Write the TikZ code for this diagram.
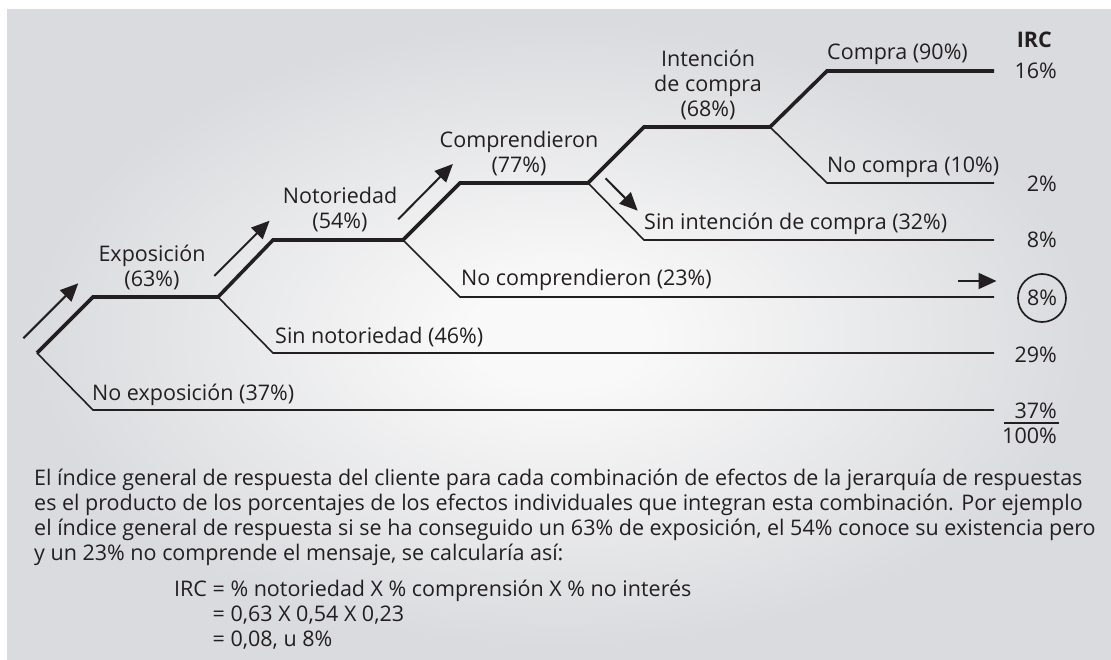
\documentclass[tikz,border=0pt]{standalone}
\usepackage{fontspec}
\setmainfont{Open Sans}
\usetikzlibrary{arrows.meta}
\definecolor{ink}{HTML}{231F20}
\definecolor{bgin}{RGB}{249,249,249}
\definecolor{bgout}{RGB}{218,219,222}
\pgfdeclareradialshading{bgshade}{\pgfpoint{0bp}{0bp}}{color(0bp)=(bgin); color(4bp)=(bgin); color(24bp)=(bgout); color(50bp)=(bgout)}
\tikzset{
  lbl/.style={font=\fontsize{21.5}{25}\selectfont, text=ink, inner sep=0pt},
  thickpath/.style={draw=ink, line width=3.6pt},
  thinpath/.style={draw=ink, line width=1.6pt},
  flowarrow/.style={draw=ink, line width=2pt, -{Triangle[length=18pt,width=16pt]}},
}
\begin{document}
\begin{tikzpicture}[x=1pt,y=-1pt]
\useasboundingbox (0,0) rectangle (1111,660);
\fill[white] (0,0) rectangle (1111,660);
\shade[shading=bgshade] (7,10) rectangle (1111,660);

% junctions
\coordinate (r)  at (37,353);
\coordinate (e1) at (93,297);   \coordinate (e2) at (218,297);
\coordinate (n1) at (273,240);  \coordinate (n2) at (403,240);
\coordinate (c1) at (460,183);  \coordinate (c2) at (588,183);
\coordinate (i1) at (644,127);  \coordinate (i2) at (770,127);
\coordinate (p1) at (827,71);   \coordinate (p2) at (994,71);
\coordinate (q1) at (827,183);  \coordinate (q2) at (994,183);
\coordinate (s1) at (644,240);  \coordinate (s2) at (994,240);
\coordinate (t1) at (460,297);  \coordinate (t2) at (994,297);
\coordinate (u1) at (273,353);  \coordinate (u2) at (994,353);
\coordinate (v1) at (93,410);   \coordinate (v2) at (994,410);

% thin branches
\draw[thinpath] (r) -- (v1) -- (v2);
\draw[thinpath] (e2) -- (u1) -- (u2);
\draw[thinpath] (n2) -- (t1) -- (t2);
\draw[thinpath] (c2) -- (s1) -- (s2);
\draw[thinpath] (i2) -- (q1) -- (q2);
% thick main path
\draw[thickpath] (r) -- (e1) -- (e2) -- (n1) -- (n2) -- (c1) -- (c2) -- (i1) -- (i2) -- (p1) -- (p2);

% arrows
\coordinate (a1t) at (23.3,338.3);  \coordinate (a1h) at (78.3,283.3);
\coordinate (a2t) at (214.3,276);   \coordinate (a2h) at (269.6,220.7);
\coordinate (a3t) at (398.2,219.3); \coordinate (a3h) at (452.9,164);
\coordinate (a4t) at (605.5,178.3); \coordinate (a4h) at (637.7,210.7);
\coordinate (a5t) at (958,281);     \coordinate (a5h) at (996.5,281);
\draw[flowarrow] (a1t) -- (a1h);
\draw[flowarrow] (a2t) -- (a2h);
\draw[flowarrow] (a3t) -- (a3h);
\draw[flowarrow] (a4t) -- (a4h);
\draw[flowarrow] (a5t) -- (a5h);

% stage labels
\node[lbl, anchor=base] (expA) at (152,262) {Exposición};
\node[lbl, anchor=base] (expB) at (152,287) {(63\%)};
\node[lbl, anchor=base] (notA) at (340,204) {Notoriedad};
\node[lbl, anchor=base] (notB) at (340,229) {(54\%)};
\node[lbl, anchor=base] (comA) at (519,148) {Comprendieron};
\node[lbl, anchor=base] (comB) at (519,173) {(77\%)};
\node[lbl, anchor=base] (intA) at (708,67) {Intención};
\node[lbl, anchor=base] (intB) at (708,92) {de compra};
\node[lbl, anchor=base] (intC) at (708,117) {(68\%)};

% branch labels
\node[lbl, anchor=base west] (compra)   at (827,60)  {Compra (90\%)};
\node[lbl, anchor=base west] (nocompra) at (827,173) {No compra (10\%)};
\node[lbl, anchor=base west] (sinint)   at (644,230) {Sin intención de compra (32\%)};
\node[lbl, anchor=base west] (nocomp)   at (461,286) {No comprendieron (23\%)};
\node[lbl, anchor=base west] (sinnot)   at (275,343) {Sin notoriedad (46\%)};
\node[lbl, anchor=base west] (noexp)    at (92,400)  {No exposición (37\%)};

% IRC column
\node[lbl, anchor=base east, font=\fontsize{21.5}{25}\selectfont\bfseries] (irch) at (1052,48) {IRC};
\node[lbl, anchor=base east] (v16)  at (1057,79)  {16\%};
\node[lbl, anchor=base east] (v2p)  at (1057,192) {2\%};
\node[lbl, anchor=base east] (v8)   at (1057,248) {8\%};
\node[lbl, circle, draw=ink, line width=1.7pt, minimum size=48pt] (v8c) at (1042,298) {8\%};
\node[lbl, anchor=base east] (v29)  at (1057,362) {29\%};
\node[lbl, anchor=base east] (v37)  at (1057,418) {37\%};
\node[lbl, anchor=base east] (v100) at (1057,443) {100\%};
\draw[ink, line width=1.5pt] (1004,423) -- (1059,423);

% explanation
\node[lbl, anchor=base west] (par1) at (34,485.5) {El índice general de respuesta del cliente para cada combinación de efectos de la jerarquía de respuestas};
\node[lbl, anchor=base west] (par2) at (34,510.5) {es el producto de los porcentajes de los efectos individuales que integran esta combinación. Por ejemplo};
\node[lbl, anchor=base west] (par3) at (34,535.5) {el índice general de respuesta si se ha conseguido un 63\% de exposición, el 54\% conoce su existencia pero};
\node[lbl, anchor=base west] (par4) at (34,560.5) {y un 23\% no comprende el mensaje, se calcularía así:};
\node[lbl, anchor=base west] (f1) at (174,596.5) {IRC = \% notoriedad X \% comprensión X \% no interés};
\node[lbl, anchor=base west] (f2) at (174,621.5) {\hphantom{IRC }= 0,63 X 0,54 X 0,23};
\node[lbl, anchor=base west] (f3) at (174,646.5) {\hphantom{IRC }= 0,08, u 8\%};
\end{tikzpicture}
\end{document}
